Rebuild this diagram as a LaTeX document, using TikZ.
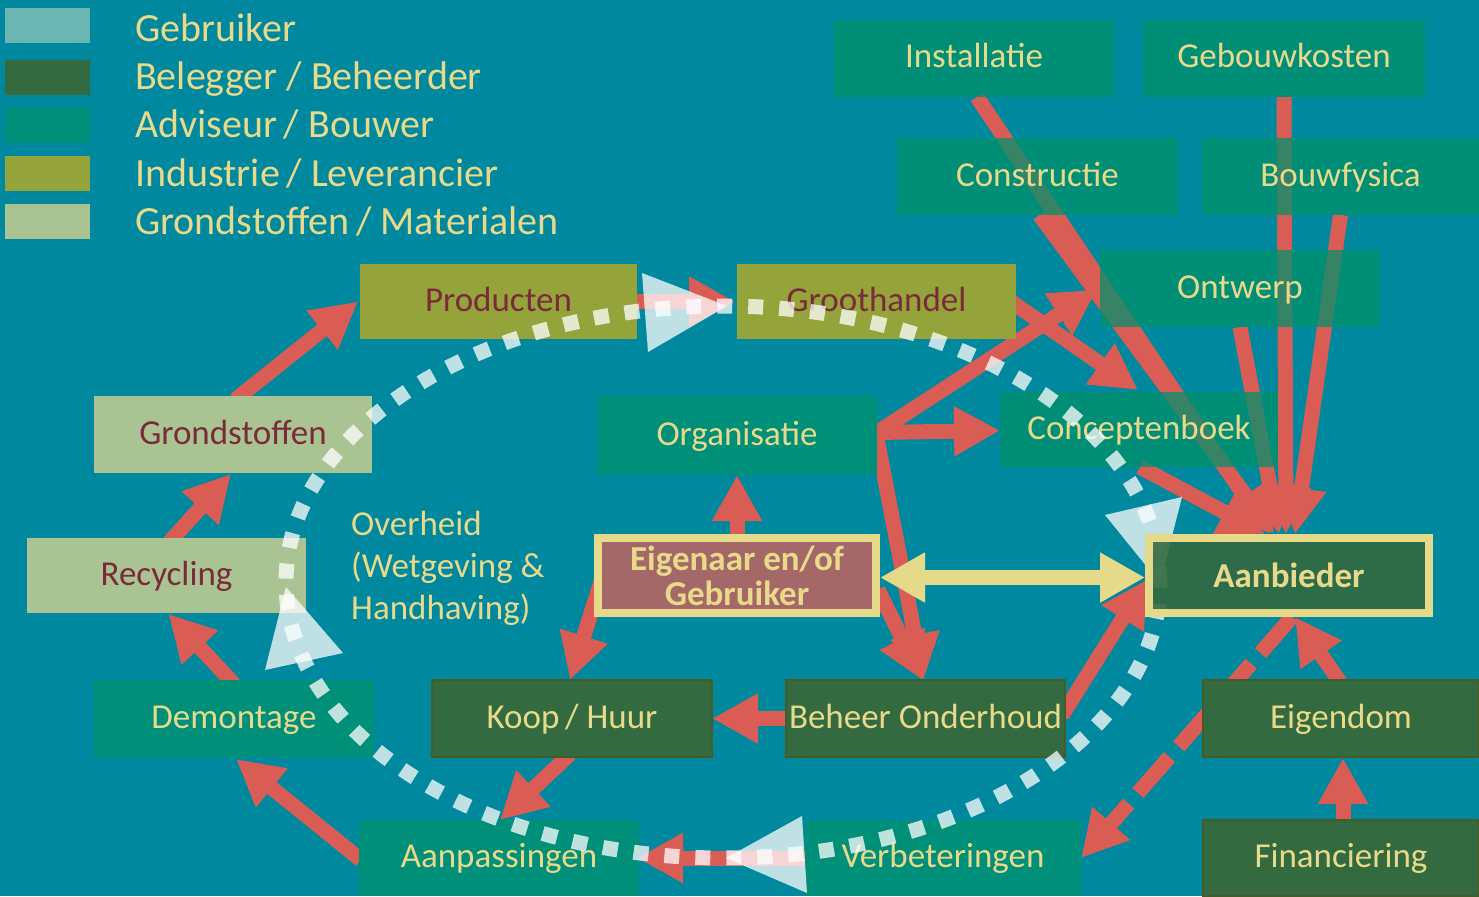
\documentclass[tikz,border=0pt]{standalone}
\usepackage{fontspec}
\setmainfont{Carlito}
\usetikzlibrary{arrows.meta,calc}
\pgfdeclarelayer{bgl}
\pgfdeclarelayer{arrowl}
\pgfdeclarelayer{dotl}
\pgfdeclarelayer{keyl}
\pgfsetlayers{bgl,arrowl,main,dotl,keyl}
\definecolor{bg}{RGB}{0,136,158}
\definecolor{gebr}{RGB}{107,181,179}
\definecolor{dgreen}{RGB}{51,106,64}
\definecolor{dgline}{RGB}{70,92,40}
\definecolor{adv}{RGB}{0,143,120}
\definecolor{advt}{RGB}{0,145,107}
\definecolor{olive}{RGB}{148,164,58}
\definecolor{lgreen}{RGB}{169,196,146}
\definecolor{ytext}{RGB}{232,218,138}
\definecolor{rarrow}{RGB}{217,93,85}
\definecolor{dred}{RGB}{123,42,59}
\definecolor{eigfill}{RGB}{163,104,103}
\definecolor{yborder}{RGB}{229,217,138}
\tikzset{
 box/.style={rectangle, inner sep=0pt, outer sep=0pt, minimum width=280pt, minimum height=77pt,
   text height=25pt, text depth=6pt, font=\fontsize{35}{42}\selectfont},
 advbox/.style={box, fill=advt, fill opacity=0.75, text opacity=1, text=ytext},
 advsolid/.style={box, fill=adv, text=ytext},
 belbox/.style={box, fill=dgreen, draw=dgline, line width=2pt, text=ytext},
 indbox/.style={box, fill=olive, text=dred},
 grbox/.style={box, fill=lgreen, text=dred},
 keybox/.style={rectangle, inner sep=0pt, outer sep=0pt, draw=yborder, line width=8pt, text=ytext,
   font=\bfseries\fontsize{35}{35}\selectfont, align=center},
 swatch/.style={rectangle, inner sep=0pt, outer sep=0pt, minimum width=85pt, minimum height=35pt},
 legtext/.style={anchor=base west, inner sep=0pt, text=ytext, font=\fontsize{40}{48}\selectfont},
 ovtext/.style={anchor=base west, inner sep=0pt, text=ytext, font=\fontsize{35}{42}\selectfont},
 rarr/.style={draw=rarrow, line width=15pt, -{Triangle[length=46pt,width=47pt]}},
 yarr/.style={draw=yborder, line width=15pt, {Triangle[length=45pt,width=47pt]}-{Triangle[length=45pt,width=47pt]}},
 dotloop/.style={draw=white, draw opacity=0.75, line width=15pt, dash pattern=on 15pt off 16pt},
 loophead/.style={fill=white, fill opacity=0.75}
}
\begin{document}
\begin{tikzpicture}[x=1pt,y=-1pt]
\begin{pgfonlayer}{bgl}
\fill[bg] (0,0) rectangle (1479,896);
\end{pgfonlayer}
\useasboundingbox (0,0) rectangle (1479,896);

% legend
\node[swatch, fill=gebr] (sw1) at (47.5,25.5) {};
\node[swatch, fill=dgreen] (sw2) at (47.5,77.5) {};
\node[swatch, fill=adv] (sw3) at (47.5,125.5) {};
\node[swatch, fill=olive] (sw4) at (47.5,173.5) {};
\node[swatch, fill=lgreen] (sw5) at (47.5,221.5) {};
\node[legtext] (lg1) at (135,42) {Gebruiker};
\node[legtext] (lg2) at (135,90) {Belegger / Beheerder};
\node[legtext] (lg3) at (135,138) {Adviseur\,/ Bouwer};
\node[legtext] (lg4) at (135,186) {Industrie\,/ Leverancier};
\node[legtext] (lg5) at (135,234) {Grondstoffen\,/ Materialen};

% boxes
\node[advbox, minimum width=280pt] (inst) at (974,58.5) {Installatie};
\node[advbox, minimum width=282pt] (gebk) at (1284,58.5) {Gebouwkosten};
\node[advbox, minimum width=281pt] (constr) at (1037.5,176.5) {Constructie};
\node[advbox, minimum width=277pt] (bouwf) at (1340.5,176.5) {Bouwfysica};
\node[advbox] (ontw) at (1240,288.5) {Ontwerp};
\node[indbox, minimum width=277pt, minimum height=75pt] (prod) at (498.5,301.5) {Producten};
\node[indbox, minimum width=279pt, minimum height=75pt] (groot) at (876.5,301.5) {Groothandel};
\node[advsolid, minimum height=79pt] (org) at (737,435.5) {Organisatie};
\node[advbox, minimum width=278pt, minimum height=75pt] (conc) at (1139,429.5) {Conceptenboek};
\node[grbox, minimum width=278pt] (grond) at (233,434.5) {Grondstoffen};
\node[grbox, minimum width=279pt, minimum height=75pt] (recyc) at (166.5,575.5) {Recycling};
\node[advsolid] (demon) at (234,718.5) {Demontage};
\node[belbox] (koop) at (572,718.5) {Koop\,/ Huur};
\node[belbox, minimum width=279pt] (beheer) at (925.5,718.5) {Beheer Onderhoud};
\node[belbox, minimum width=276pt] (eigd) at (1341,718.5) {Eigendom};
\node[advsolid, minimum height=76pt] (aanp) at (499,858) {Aanpassingen};
\node[advsolid, minimum width=276pt, minimum height=76pt] (verb) at (943,858) {Verbeteringen};
\node[belbox, minimum width=276pt, minimum height=76pt] (fin) at (1341,858) {Financiering};

\node[ovtext] (ov1) at (351,535) {Overheid};
\node[ovtext] (ov2) at (351,577) {(Wetgeving \&};
\node[ovtext] (ov3) at (351,619) {Handhaving)};

\begin{pgfonlayer}{keyl}
\node[keybox, fill=eigfill, minimum width=278pt, minimum height=75pt] (eig) at (737,575.5) {Eigenaar en/of\\Gebruiker};
\node[keybox, fill=dgreen, fill opacity=0.9, text opacity=1, minimum width=280pt, minimum height=75pt] (aanb) at (1289,575.5) {Aanbieder};
\end{pgfonlayer}

\coordinate (oc) at ($(org.east)+(0,-3)$);

\begin{pgfonlayer}{arrowl}
\draw[rarr] ($(grond.north)+(2,4)$) -- ($(prod.west)+(-2,0)$);
\draw[rarr] ($(recyc.north)+(3,4)$) -- ($(grond.south)+(-2,1)$);
\draw[rarr] ($(demon.north)+(0,4)$) -- ($(recyc.south)+(2,1)$);
\draw[rarr] ($(aanp.west)+(2,2)$) -- ($(demon.south)+(2,2)$);
\draw[rarr] ($(koop.south)+(-2,-3)$) -- ($(aanp.north)+(1,0)$);
\draw[rarr] ($(beheer.west)+(3,0)$) -- (koop.east);
\draw[rarr] ($(eig.west)+(3,6)$) -- ($(koop.north)+(-2,0)$);
\draw[rarr] ($(eig.north)+(0,4)$) -- (org.south);
\draw[rarr] (oc) -- ($(conc.west)+(0,1)$);
\draw[rarr] (oc) -- ($(ontw.west)+(-3,1)$);
\draw[rarr] ($(oc)+(0,6)$) -- ($(beheer.north)+(-2,0)$);
\draw[rarr] ($(eig.east)+(2,14)$) -- ($(beheer.north)+(-3,0)$);
\draw[rarr] ($(groot.east)+(-5,0)$) -- ($(conc.north)+(-1,-2)$);
\draw[rarr] ($(inst.south)+(3,0)$) -- ($(aanb.north)+(-19,-4)$);
\draw[rarr] ($(constr.south)+(2,0)$) -- ($(aanb.north)+(-15,-4)$);
\draw[rarr] (gebk.south) -- ($(aanb.north)+(-3,-4)$);
\draw[rarr] (bouwf.south) -- ($(aanb.north)+(6,-4)$);
\draw[rarr] (ontw.south) -- ($(aanb.north)+(-10,-4)$);
\draw[rarr] ($(conc.south)+(1,0)$) -- ($(aanb.north)+(-24,-4)$);
\draw[rarr] ($(beheer.east)+(-3,-3)$) -- ($(aanb.west)+(-2,4)$);
\draw[rarr, dash pattern=on 48pt off 14pt] ($(aanb.south)+(3,4)$) -- (verb.east);
\draw[rarr] ($(eigd.north)+(-1,2)$) -- ($(aanb.south)+(6,4)$);
\draw[rarr] ($(fin.north)+(2,2)$) -- ($(eigd.south)+(2,1)$);
\draw[rarr] ($(verb.west)+(3,0)$) -- ($(aanp.east)+(-2,0)$);
\draw[rarr] ($(prod.east)+(-3,0)$) -- ($(groot.west)+(-2,0)$);
\end{pgfonlayer}

\begin{pgfonlayer}{dotl}
\draw[dotloop] (723,582) ellipse [x radius=437pt, y radius=276pt];
\fill[loophead] (642,273) -- (648,352) -- (727,306) -- cycle;
\fill[loophead] (1105,515) -- (1182,497) -- (1160,583) -- cycle;
\fill[loophead] (802,816) -- (807,893) -- (726,858) -- cycle;
\fill[loophead] (265,670) -- (343,653) -- (286,587) -- cycle;
\draw[yarr] ($(eig.east)+(4,2)$) -- ($(aanb.west)+(-4,2)$);
\end{pgfonlayer}
\end{tikzpicture}
\end{document}
